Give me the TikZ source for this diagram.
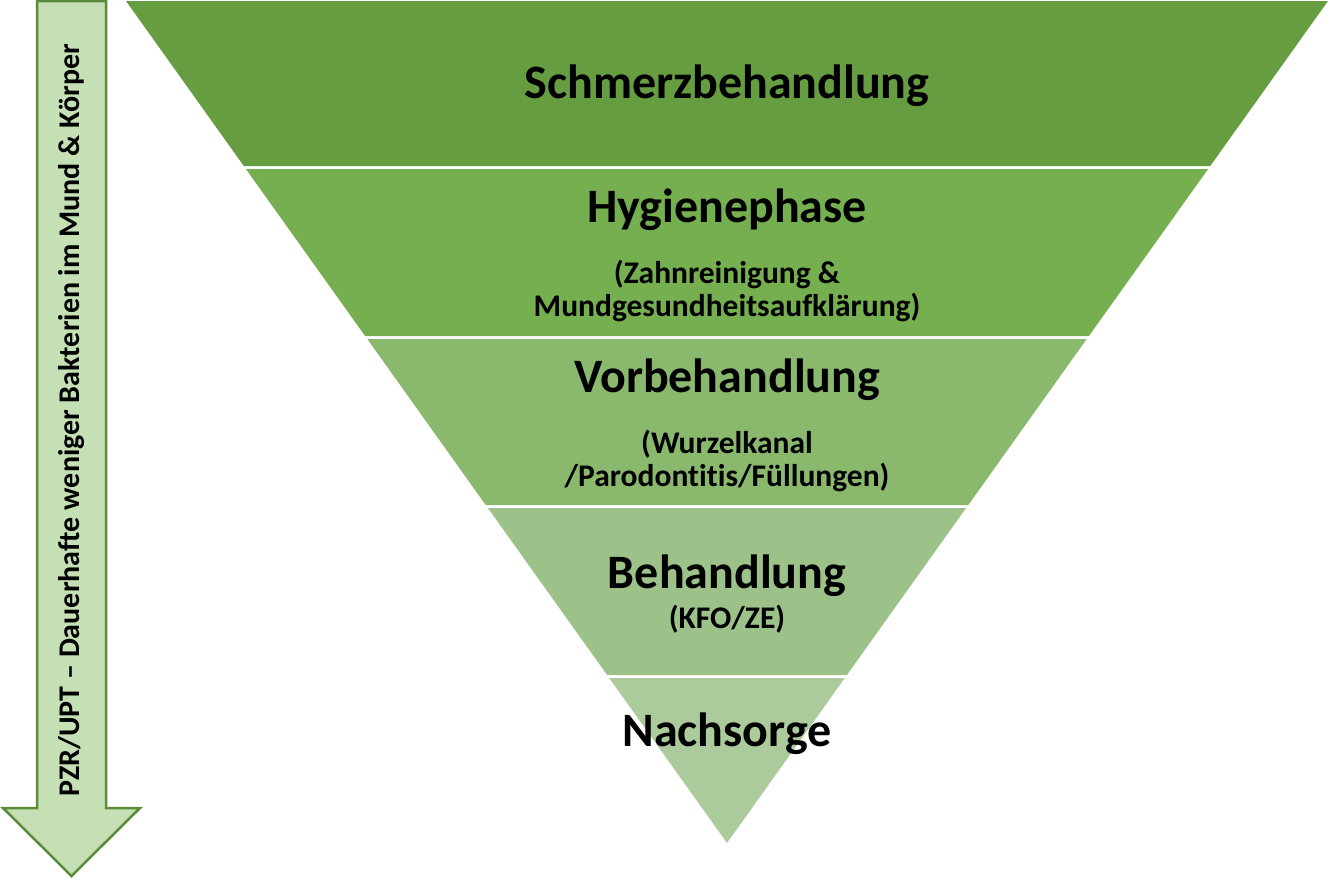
\documentclass[tikz,border=0pt]{standalone}
\usepackage{fontspec}
\setmainfont{Carlito}[Ligatures=NoCommon]
\definecolor{bandA}{HTML}{669D41}
\definecolor{bandB}{HTML}{75AF4F}
\definecolor{bandC}{HTML}{8AB96D}
\definecolor{bandD}{HTML}{9CC289}
\definecolor{bandE}{HTML}{ACCB9D}
\definecolor{arrowfill}{HTML}{C5E0B4}
\definecolor{arrowline}{HTML}{5B8C3A}
\tikzset{
  big/.style={font=\fontsize{48}{52}\selectfont\bfseries},
  small/.style={font=\fontsize{31.5}{33.5}\selectfont\bfseries, align=center},
  arrowtext/.style={font=\fontsize{30}{34}\selectfont\bfseries, rotate=90}
}
\begin{document}
\begin{tikzpicture}[x=1pt,y=-1pt]
\useasboundingbox (0,0) rectangle (1330,879);
% bands of the funnel
\fill[bandA] (126,1) -- (1328,1) -- (1210.2,166) -- (243.8,166) -- cycle;
\fill[bandB] (245.9,169) -- (1208.1,169) -- (1088.9,336) -- (365.1,336) -- cycle;
\fill[bandC] (367.3,339) -- (1086.7,339) -- (968.3,505) -- (485.7,505) -- cycle;
\fill[bandD] (487.9,508) -- (966.1,508) -- (846.9,675) -- (607.1,675) -- cycle;
\fill[bandE] (609.2,678) -- (844.8,678) -- (727,843) -- cycle;

\node[big] (schmerz) at (727,86) {Schmerzbehandlung};
\node[big] (hygiene) at (727,210) {Hygienephase};
\node[small] (hygienetxt) at (727,291) {(Zahnreinigung \&\\Mundgesundheitsaufklärung)};
\node[big] (vorbeh) at (727,380) {Vorbehandlung};
\node[small] (vorbehtxt) at (727,461) {(Wurzelkanal\\/Parodontitis/Füllungen)};
\node[big] (beh) at (727,576) {Behandlung};
\node[small] (behtxt) at (727,619) {(KFO/ZE)};
\node[big] (nach) at (727,734) {Nachsorge};

% arrow on the left
\draw[arrowline, fill=arrowfill, line width=2.5pt, line join=miter]
  (37,1) -- (106,1) -- (106,808) -- (140,808) -- (71.5,876) -- (3,808) -- (37,808) -- cycle;
\node[arrowtext] (pzr) at (72,420) {PZR/UPT – Dauerhafte weniger Bakterien im Mund \& Körper};
\end{tikzpicture}
\end{document}
